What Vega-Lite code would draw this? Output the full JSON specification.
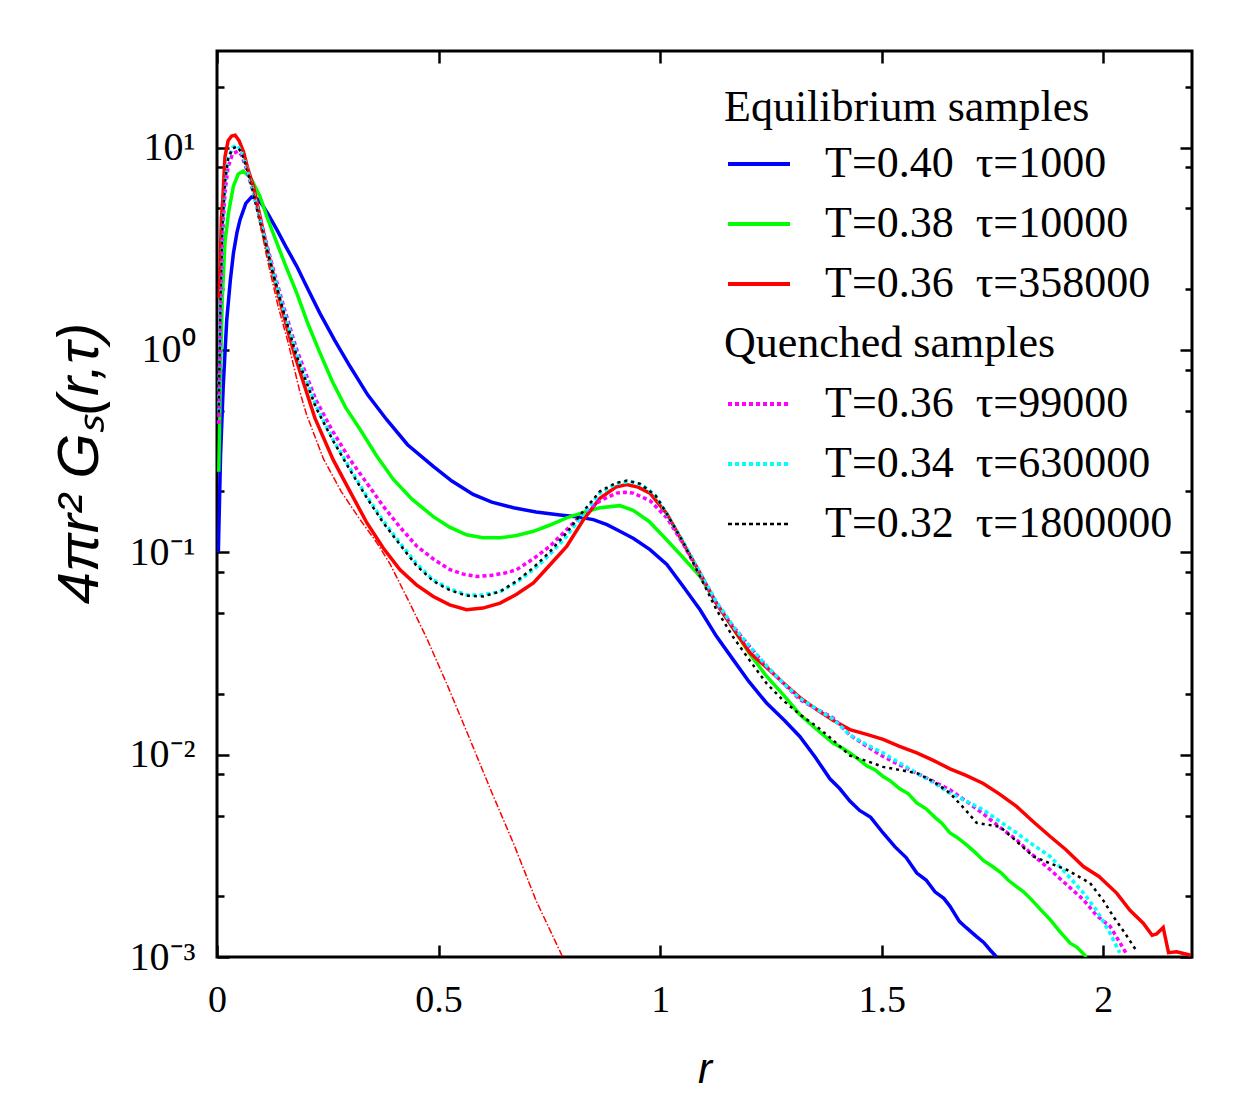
{
  "$schema": "https://vega.github.io/schema/vega-lite/v6.json",
  "width": 975,
  "height": 906,
  "autosize": {"type": "none"},
  "padding": {"left": 217, "top": 51, "right": 66, "bottom": 143},
  "background": "white",
  "config": {
    "view": {"stroke": "black", "strokeWidth": 3},
    "axis": {
      "domain": false,
      "grid": false,
      "labelFont": "Liberation Serif",
      "labelFontSize": 38,
      "labelColor": "black",
      "labelFlush": false,
      "tickColor": "black",
      "tickWidth": 2.5,
      "titleColor": "black",
      "titleFontWeight": "normal"
    },
    "legend": {
      "orient": "none",
      "legendX": 507,
      "legendY": 35,
      "padding": 0,
      "titleFont": "Liberation Serif",
      "titleFontSize": 44,
      "titleFontWeight": "normal",
      "titleColor": "black",
      "titleLimit": 600,
      "titlePadding": 12,
      "labelFont": "Liberation Serif",
      "labelFontSize": 44,
      "labelColor": "black",
      "labelLimit": 600,
      "labelOffset": 44,
      "symbolSize": 3844,
      "symbolStrokeWidth": 4,
      "symbolType": "stroke",
      "rowPadding": 16
    }
  },
  "datasets": {
    "d": [
      {"s":"B","r":0.003,"v":0.1},{"s":"B","r":0.008,"v":0.3},{"s":"B","r":0.014,"v":0.66},{"s":"B","r":0.022,"v":1.41},{"s":"B","r":0.03,"v":2.2},{"s":"B","r":0.037,"v":3.0},{"s":"B","r":0.045,"v":3.8},{"s":"B","r":0.052,"v":4.4},{"s":"B","r":0.065,"v":5.3},{"s":"B","r":0.078,"v":5.7},{"s":"B","r":0.09,"v":5.6},{"s":"B","r":0.1,"v":5.3},{"s":"B","r":0.115,"v":4.7},{"s":"B","r":0.135,"v":3.93},{"s":"B","r":0.155,"v":3.25},{"s":"B","r":0.18,"v":2.59},{"s":"B","r":0.205,"v":2.0},{"s":"B","r":0.232,"v":1.52},{"s":"B","r":0.265,"v":1.12},{"s":"B","r":0.3,"v":0.83},{"s":"B","r":0.34,"v":0.6},{"s":"B","r":0.383,"v":0.452},{"s":"B","r":0.43,"v":0.34},{"s":"B","r":0.488,"v":0.266},{"s":"B","r":0.53,"v":0.225},{"s":"B","r":0.578,"v":0.193},{"s":"B","r":0.62,"v":0.177},{"s":"B","r":0.669,"v":0.166},{"s":"B","r":0.72,"v":0.158},{"s":"B","r":0.774,"v":0.153},{"s":"B","r":0.81,"v":0.15},{"s":"B","r":0.849,"v":0.145},{"s":"B","r":0.88,"v":0.137},{"s":"B","r":0.909,"v":0.127},{"s":"B","r":0.94,"v":0.117},{"s":"B","r":0.977,"v":0.103},{"s":"B","r":1.015,"v":0.087},{"s":"B","r":1.052,"v":0.0678},{"s":"B","r":1.09,"v":0.052},{"s":"B","r":1.127,"v":0.0384},{"s":"B","r":1.165,"v":0.0294},{"s":"B","r":1.2,"v":0.023},{"s":"B","r":1.24,"v":0.018},{"s":"B","r":1.28,"v":0.0148},{"s":"B","r":1.315,"v":0.0123},{"s":"B","r":1.35,"v":0.0097},{"s":"B","r":1.383,"v":0.0076},{"s":"B","r":1.405,"v":0.0068},{"s":"B","r":1.428,"v":0.0059},{"s":"B","r":1.45,"v":0.0053},{"s":"B","r":1.475,"v":0.0049},{"s":"B","r":1.503,"v":0.0041},{"s":"B","r":1.53,"v":0.0035},{"s":"B","r":1.555,"v":0.0031},{"s":"B","r":1.579,"v":0.0026},{"s":"B","r":1.6,"v":0.0024},{"s":"B","r":1.62,"v":0.0021},{"s":"B","r":1.64,"v":0.00195},{"s":"B","r":1.654,"v":0.00178},{"s":"B","r":1.675,"v":0.0015},{"s":"B","r":1.69,"v":0.0014},{"s":"B","r":1.714,"v":0.00126},{"s":"B","r":1.73,"v":0.00118},{"s":"B","r":1.745,"v":0.00108},{"s":"B","r":1.759,"v":0.001},

      {"s":"G","r":0.004,"v":0.25},{"s":"G","r":0.008,"v":0.8},{"s":"G","r":0.012,"v":1.8},{"s":"G","r":0.018,"v":3.4},{"s":"G","r":0.026,"v":4.76},{"s":"G","r":0.037,"v":6.44},{"s":"G","r":0.048,"v":7.4},{"s":"G","r":0.059,"v":7.64},{"s":"G","r":0.07,"v":7.3},{"s":"G","r":0.078,"v":6.95},{"s":"G","r":0.097,"v":5.74},{"s":"G","r":0.115,"v":4.4},{"s":"G","r":0.135,"v":3.38},{"s":"G","r":0.155,"v":2.6},{"s":"G","r":0.18,"v":1.91},{"s":"G","r":0.205,"v":1.35},{"s":"G","r":0.232,"v":0.97},{"s":"G","r":0.26,"v":0.7},{"s":"G","r":0.29,"v":0.52},{"s":"G","r":0.323,"v":0.404},{"s":"G","r":0.36,"v":0.3},{"s":"G","r":0.398,"v":0.229},{"s":"G","r":0.44,"v":0.183},{"s":"G","r":0.488,"v":0.15},{"s":"G","r":0.525,"v":0.133},{"s":"G","r":0.563,"v":0.122},{"s":"G","r":0.6,"v":0.118},{"s":"G","r":0.639,"v":0.118},{"s":"G","r":0.676,"v":0.121},{"s":"G","r":0.714,"v":0.127},{"s":"G","r":0.75,"v":0.136},{"s":"G","r":0.789,"v":0.148},{"s":"G","r":0.825,"v":0.157},{"s":"G","r":0.864,"v":0.166},{"s":"G","r":0.909,"v":0.17},{"s":"G","r":0.939,"v":0.161},{"s":"G","r":0.975,"v":0.142},{"s":"G","r":1.015,"v":0.115},{"s":"G","r":1.052,"v":0.094},{"s":"G","r":1.09,"v":0.076},{"s":"G","r":1.127,"v":0.056},{"s":"G","r":1.165,"v":0.042},{"s":"G","r":1.2,"v":0.032},{"s":"G","r":1.24,"v":0.0244},{"s":"G","r":1.28,"v":0.0195},{"s":"G","r":1.315,"v":0.0158},{"s":"G","r":1.35,"v":0.0135},{"s":"G","r":1.39,"v":0.0114},{"s":"G","r":1.41,"v":0.0108},{"s":"G","r":1.428,"v":0.0102},{"s":"G","r":1.45,"v":0.0094},{"s":"G","r":1.466,"v":0.0088},{"s":"G","r":1.485,"v":0.0084},{"s":"G","r":1.503,"v":0.0078},{"s":"G","r":1.52,"v":0.0074},{"s":"G","r":1.54,"v":0.0068},{"s":"G","r":1.56,"v":0.0064},{"s":"G","r":1.579,"v":0.00577},{"s":"G","r":1.6,"v":0.0054},{"s":"G","r":1.62,"v":0.0049},{"s":"G","r":1.635,"v":0.0046},{"s":"G","r":1.654,"v":0.0041},{"s":"G","r":1.67,"v":0.0039},{"s":"G","r":1.69,"v":0.0036},{"s":"G","r":1.71,"v":0.0033},{"s":"G","r":1.729,"v":0.003},{"s":"G","r":1.75,"v":0.0028},{"s":"G","r":1.77,"v":0.0026},{"s":"G","r":1.785,"v":0.0024},{"s":"G","r":1.804,"v":0.00223},{"s":"G","r":1.82,"v":0.0021},{"s":"G","r":1.84,"v":0.0019},{"s":"G","r":1.86,"v":0.0017},{"s":"G","r":1.88,"v":0.00153},{"s":"G","r":1.9,"v":0.00135},{"s":"G","r":1.925,"v":0.00117},{"s":"G","r":1.94,"v":0.00112},{"s":"G","r":1.962,"v":0.001},

      {"s":"R","r":0.005,"v":1.8},{"s":"R","r":0.01,"v":4.5},{"s":"R","r":0.013,"v":5.5},{"s":"R","r":0.018,"v":9.0},{"s":"R","r":0.025,"v":10.8},{"s":"R","r":0.033,"v":11.4},{"s":"R","r":0.041,"v":11.5},{"s":"R","r":0.05,"v":10.8},{"s":"R","r":0.06,"v":9.5},{"s":"R","r":0.07,"v":7.8},{"s":"R","r":0.082,"v":6.44},{"s":"R","r":0.095,"v":4.8},{"s":"R","r":0.112,"v":3.25},{"s":"R","r":0.135,"v":2.0},{"s":"R","r":0.157,"v":1.31},{"s":"R","r":0.175,"v":0.95},{"s":"R","r":0.195,"v":0.69},{"s":"R","r":0.221,"v":0.46},{"s":"R","r":0.262,"v":0.287},{"s":"R","r":0.3,"v":0.2},{"s":"R","r":0.338,"v":0.14},{"s":"R","r":0.375,"v":0.105},{"s":"R","r":0.413,"v":0.082},{"s":"R","r":0.45,"v":0.069},{"s":"R","r":0.488,"v":0.0605},{"s":"R","r":0.525,"v":0.055},{"s":"R","r":0.563,"v":0.052},{"s":"R","r":0.6,"v":0.053},{"s":"R","r":0.639,"v":0.0561},{"s":"R","r":0.676,"v":0.062},{"s":"R","r":0.714,"v":0.0705},{"s":"R","r":0.75,"v":0.086},{"s":"R","r":0.789,"v":0.107},{"s":"R","r":0.827,"v":0.145},{"s":"R","r":0.864,"v":0.185},{"s":"R","r":0.9,"v":0.21},{"s":"R","r":0.924,"v":0.216},{"s":"R","r":0.95,"v":0.21},{"s":"R","r":0.977,"v":0.196},{"s":"R","r":1.015,"v":0.155},{"s":"R","r":1.052,"v":0.111},{"s":"R","r":1.09,"v":0.079},{"s":"R","r":1.127,"v":0.056},{"s":"R","r":1.165,"v":0.042},{"s":"R","r":1.203,"v":0.0318},{"s":"R","r":1.24,"v":0.027},{"s":"R","r":1.278,"v":0.0226},{"s":"R","r":1.315,"v":0.0192},{"s":"R","r":1.353,"v":0.0167},{"s":"R","r":1.39,"v":0.0148},{"s":"R","r":1.428,"v":0.0133},{"s":"R","r":1.466,"v":0.0126},{"s":"R","r":1.503,"v":0.0119},{"s":"R","r":1.54,"v":0.011},{"s":"R","r":1.579,"v":0.0102},{"s":"R","r":1.615,"v":0.0094},{"s":"R","r":1.654,"v":0.0085},{"s":"R","r":1.69,"v":0.0079},{"s":"R","r":1.729,"v":0.0072},{"s":"R","r":1.765,"v":0.0064},{"s":"R","r":1.804,"v":0.00555},{"s":"R","r":1.84,"v":0.0047},{"s":"R","r":1.88,"v":0.00394},{"s":"R","r":1.915,"v":0.0034},{"s":"R","r":1.955,"v":0.0028},{"s":"R","r":1.99,"v":0.0025},{"s":"R","r":2.03,"v":0.00207},{"s":"R","r":2.06,"v":0.0017},{"s":"R","r":2.09,"v":0.00147},{"s":"R","r":2.11,"v":0.00128},{"s":"R","r":2.12,"v":0.0013},{"s":"R","r":2.135,"v":0.0014},{"s":"R","r":2.147,"v":0.00105},{"s":"R","r":2.165,"v":0.00106},{"s":"R","r":2.181,"v":0.00104},{"s":"R","r":2.197,"v":0.00102},

      {"s":"M","r":0.004,"v":0.43},{"s":"M","r":0.008,"v":1.5},{"s":"M","r":0.012,"v":3.5},{"s":"M","r":0.018,"v":6.0},{"s":"M","r":0.025,"v":8.0},{"s":"M","r":0.035,"v":9.3},{"s":"M","r":0.047,"v":9.6},{"s":"M","r":0.055,"v":9.2},{"s":"M","r":0.065,"v":8.0},{"s":"M","r":0.08,"v":6.2},{"s":"M","r":0.1,"v":4.2},{"s":"M","r":0.125,"v":2.6},{"s":"M","r":0.15,"v":1.65},{"s":"M","r":0.18,"v":1.0},{"s":"M","r":0.223,"v":0.567},{"s":"M","r":0.26,"v":0.4},{"s":"M","r":0.3,"v":0.287},{"s":"M","r":0.338,"v":0.22},{"s":"M","r":0.375,"v":0.169},{"s":"M","r":0.413,"v":0.133},{"s":"M","r":0.451,"v":0.107},{"s":"M","r":0.49,"v":0.092},{"s":"M","r":0.526,"v":0.082},{"s":"M","r":0.556,"v":0.078},{"s":"M","r":0.586,"v":0.076},{"s":"M","r":0.62,"v":0.077},{"s":"M","r":0.65,"v":0.079},{"s":"M","r":0.676,"v":0.082},{"s":"M","r":0.714,"v":0.093},{"s":"M","r":0.751,"v":0.107},{"s":"M","r":0.79,"v":0.13},{"s":"M","r":0.827,"v":0.156},{"s":"M","r":0.865,"v":0.18},{"s":"M","r":0.902,"v":0.196},{"s":"M","r":0.92,"v":0.198},{"s":"M","r":0.939,"v":0.196},{"s":"M","r":0.977,"v":0.18},{"s":"M","r":1.015,"v":0.148},{"s":"M","r":1.052,"v":0.11},{"s":"M","r":1.09,"v":0.077},{"s":"M","r":1.127,"v":0.056},{"s":"M","r":1.165,"v":0.043},{"s":"M","r":1.203,"v":0.034},{"s":"M","r":1.24,"v":0.0273},{"s":"M","r":1.278,"v":0.0225},{"s":"M","r":1.315,"v":0.0187},{"s":"M","r":1.353,"v":0.0168},{"s":"M","r":1.39,"v":0.0152},{"s":"M","r":1.428,"v":0.0125},{"s":"M","r":1.466,"v":0.011},{"s":"M","r":1.503,"v":0.0098},{"s":"M","r":1.54,"v":0.0089},{"s":"M","r":1.579,"v":0.0081},{"s":"M","r":1.615,"v":0.0074},{"s":"M","r":1.654,"v":0.0067},{"s":"M","r":1.69,"v":0.0059},{"s":"M","r":1.729,"v":0.0051},{"s":"M","r":1.765,"v":0.0044},{"s":"M","r":1.804,"v":0.0038},{"s":"M","r":1.84,"v":0.0032},{"s":"M","r":1.88,"v":0.0027},{"s":"M","r":1.915,"v":0.0023},{"s":"M","r":1.955,"v":0.00192},{"s":"M","r":1.985,"v":0.0016},{"s":"M","r":2.015,"v":0.00142},{"s":"M","r":2.035,"v":0.0012},{"s":"M","r":2.053,"v":0.00103},

      {"s":"C","r":0.004,"v":0.49},{"s":"C","r":0.008,"v":1.8},{"s":"C","r":0.012,"v":4.0},{"s":"C","r":0.018,"v":6.8},{"s":"C","r":0.025,"v":8.8},{"s":"C","r":0.035,"v":10.0},{"s":"C","r":0.045,"v":10.3},{"s":"C","r":0.055,"v":9.6},{"s":"C","r":0.065,"v":8.3},{"s":"C","r":0.08,"v":6.3},{"s":"C","r":0.1,"v":4.1},{"s":"C","r":0.125,"v":2.5},{"s":"C","r":0.15,"v":1.58},{"s":"C","r":0.18,"v":0.95},{"s":"C","r":0.223,"v":0.53},{"s":"C","r":0.262,"v":0.36},{"s":"C","r":0.3,"v":0.26},{"s":"C","r":0.338,"v":0.189},{"s":"C","r":0.375,"v":0.143},{"s":"C","r":0.413,"v":0.111},{"s":"C","r":0.45,"v":0.088},{"s":"C","r":0.488,"v":0.073},{"s":"C","r":0.525,"v":0.066},{"s":"C","r":0.563,"v":0.0616},{"s":"C","r":0.6,"v":0.0615},{"s":"C","r":0.639,"v":0.064},{"s":"C","r":0.676,"v":0.071},{"s":"C","r":0.714,"v":0.082},{"s":"C","r":0.75,"v":0.097},{"s":"C","r":0.789,"v":0.12},{"s":"C","r":0.827,"v":0.155},{"s":"C","r":0.864,"v":0.196},{"s":"C","r":0.9,"v":0.218},{"s":"C","r":0.932,"v":0.224},{"s":"C","r":0.96,"v":0.215},{"s":"C","r":0.99,"v":0.19},{"s":"C","r":1.015,"v":0.155},{"s":"C","r":1.052,"v":0.113},{"s":"C","r":1.09,"v":0.079},{"s":"C","r":1.127,"v":0.057},{"s":"C","r":1.165,"v":0.043},{"s":"C","r":1.203,"v":0.034},{"s":"C","r":1.24,"v":0.0275},{"s":"C","r":1.278,"v":0.0225},{"s":"C","r":1.315,"v":0.019},{"s":"C","r":1.353,"v":0.0168},{"s":"C","r":1.39,"v":0.015},{"s":"C","r":1.428,"v":0.0125},{"s":"C","r":1.466,"v":0.0112},{"s":"C","r":1.503,"v":0.0102},{"s":"C","r":1.54,"v":0.0091},{"s":"C","r":1.579,"v":0.0081},{"s":"C","r":1.615,"v":0.0073},{"s":"C","r":1.654,"v":0.00645},{"s":"C","r":1.69,"v":0.0059},{"s":"C","r":1.729,"v":0.00534},{"s":"C","r":1.765,"v":0.0047},{"s":"C","r":1.804,"v":0.0041},{"s":"C","r":1.84,"v":0.0036},{"s":"C","r":1.88,"v":0.00314},{"s":"C","r":1.915,"v":0.0026},{"s":"C","r":1.955,"v":0.00207},{"s":"C","r":1.985,"v":0.0017},{"s":"C","r":2.015,"v":0.00131},{"s":"C","r":2.037,"v":0.00105},

      {"s":"K","r":0.004,"v":0.49},{"s":"K","r":0.008,"v":1.8},{"s":"K","r":0.012,"v":4.0},{"s":"K","r":0.018,"v":6.8},{"s":"K","r":0.025,"v":8.8},{"s":"K","r":0.035,"v":9.9},{"s":"K","r":0.045,"v":10.1},{"s":"K","r":0.055,"v":9.5},{"s":"K","r":0.065,"v":8.2},{"s":"K","r":0.08,"v":6.2},{"s":"K","r":0.1,"v":4.0},{"s":"K","r":0.125,"v":2.45},{"s":"K","r":0.15,"v":1.55},{"s":"K","r":0.18,"v":0.93},{"s":"K","r":0.223,"v":0.52},{"s":"K","r":0.262,"v":0.355},{"s":"K","r":0.3,"v":0.255},{"s":"K","r":0.338,"v":0.186},{"s":"K","r":0.375,"v":0.14},{"s":"K","r":0.413,"v":0.109},{"s":"K","r":0.45,"v":0.086},{"s":"K","r":0.488,"v":0.072},{"s":"K","r":0.525,"v":0.065},{"s":"K","r":0.563,"v":0.061},{"s":"K","r":0.6,"v":0.0605},{"s":"K","r":0.639,"v":0.064},{"s":"K","r":0.676,"v":0.072},{"s":"K","r":0.714,"v":0.084},{"s":"K","r":0.75,"v":0.1},{"s":"K","r":0.789,"v":0.125},{"s":"K","r":0.827,"v":0.16},{"s":"K","r":0.864,"v":0.2},{"s":"K","r":0.9,"v":0.22},{"s":"K","r":0.925,"v":0.226},{"s":"K","r":0.955,"v":0.218},{"s":"K","r":0.99,"v":0.19},{"s":"K","r":1.015,"v":0.155},{"s":"K","r":1.052,"v":0.112},{"s":"K","r":1.09,"v":0.076},{"s":"K","r":1.127,"v":0.052},{"s":"K","r":1.165,"v":0.038},{"s":"K","r":1.203,"v":0.029},{"s":"K","r":1.24,"v":0.0225},{"s":"K","r":1.278,"v":0.0185},{"s":"K","r":1.315,"v":0.0158},{"s":"K","r":1.353,"v":0.0138},{"s":"K","r":1.39,"v":0.0118},{"s":"K","r":1.428,"v":0.0099},{"s":"K","r":1.466,"v":0.0093},{"s":"K","r":1.503,"v":0.0087},{"s":"K","r":1.54,"v":0.0084},{"s":"K","r":1.579,"v":0.0081},{"s":"K","r":1.615,"v":0.0074},{"s":"K","r":1.654,"v":0.00645},{"s":"K","r":1.69,"v":0.0053},{"s":"K","r":1.714,"v":0.0046},{"s":"K","r":1.74,"v":0.0045},{"s":"K","r":1.767,"v":0.0044},{"s":"K","r":1.8,"v":0.0038},{"s":"K","r":1.842,"v":0.00314},{"s":"K","r":1.88,"v":0.0029},{"s":"K","r":1.917,"v":0.0027},{"s":"K","r":1.97,"v":0.00232},{"s":"K","r":2.0,"v":0.0019},{"s":"K","r":2.023,"v":0.00158},{"s":"K","r":2.05,"v":0.0013},{"s":"K","r":2.075,"v":0.00107},

      {"s":"D","r":0.005,"v":1.8},{"s":"D","r":0.01,"v":4.5},{"s":"D","r":0.013,"v":5.5},{"s":"D","r":0.018,"v":9.0},{"s":"D","r":0.025,"v":10.8},{"s":"D","r":0.033,"v":11.4},{"s":"D","r":0.041,"v":11.5},{"s":"D","r":0.05,"v":10.8},{"s":"D","r":0.06,"v":9.4},{"s":"D","r":0.07,"v":7.7},{"s":"D","r":0.082,"v":6.2},{"s":"D","r":0.095,"v":4.5},{"s":"D","r":0.112,"v":2.9},{"s":"D","r":0.138,"v":1.64},{"s":"D","r":0.16,"v":1.1},{"s":"D","r":0.187,"v":0.62},{"s":"D","r":0.202,"v":0.48},{"s":"D","r":0.24,"v":0.29},{"s":"D","r":0.28,"v":0.2},{"s":"D","r":0.32,"v":0.148},{"s":"D","r":0.36,"v":0.112},{"s":"D","r":0.39,"v":0.088},{"s":"D","r":0.435,"v":0.056},{"s":"D","r":0.473,"v":0.0377},{"s":"D","r":0.52,"v":0.022},{"s":"D","r":0.57,"v":0.012},{"s":"D","r":0.62,"v":0.0065},{"s":"D","r":0.67,"v":0.0036},{"s":"D","r":0.72,"v":0.0019},{"s":"D","r":0.78,"v":0.001}
    ]
  },
  "data": {"name": "d"},
  "encoding": {
    "x": {
      "field": "r",
      "type": "quantitative",
      "scale": {"domain": [0, 2.2], "nice": false, "zero": false}
    },
    "y": {
      "field": "v",
      "type": "quantitative",
      "scale": {"type": "log", "domain": [0.001, 30], "nice": false}
    }
  },
  "layer": [
    {
      "encoding": {
        "x": {
          "field": "r",
          "type": "quantitative",
          "scale": {"domain": [0, 2.2], "nice": false, "zero": false},
          "axis": {
            "orient": "bottom",
            "values": [0, 0.5, 1, 1.5, 2],
            "format": "~g",
            "tickSize": -12,
            "labelPadding": 36,
            "title": "r",
            "titleFont": "Liberation Sans",
            "titleFontStyle": "italic",
            "titleFontSize": 42,
            "titlePadding": 30
          }
        },
        "y": {
          "field": "v",
          "type": "quantitative",
          "scale": {"type": "log", "domain": [0.001, 30], "nice": false},
          "axis": {
            "orient": "left",
            "values": [0.001, 0.002, 0.005, 0.008, 0.01, 0.02, 0.05, 0.08, 0.1, 0.2, 0.5, 0.8, 1, 2, 5, 8, 10, 20],
            "labelExpr": "datum.value == 10 ? '10¹' : datum.value == 1 ? '10⁰' : datum.value == 0.1 ? '10⁻¹' : datum.value == 0.01 ? '10⁻²' : datum.value == 0.001 ? '10⁻³' : ''",
            "tickSize": {"condition": {"test": "abs(log(datum.value) / LN10 - round(log(datum.value) / LN10)) < 0.001", "value": -12}, "value": -7},
            "labelPadding": 34,
            "labelFontSize": 40,
            "title": "4πr² Gₛ(r,τ)",
            "titleFont": "Liberation Sans",
            "titleFontStyle": "italic",
            "titleFontSize": 58,
            "titlePadding": 20,
            "titleY": 412
          }
        },
        "color": {
          "field": "s",
          "type": "nominal",
          "scale": {
            "domain": ["B", "G", "R", "H", "M", "C", "K"],
            "range": ["#0000ff", "#00ff00", "#ff0000", "#ffffff", "#ff00ff", "#00ffff", "#000000"]
          },
          "legend": {
            "title": "Equilibrium samples",
            "labelExpr": "datum.label == 'B' ? 'T=0.40\u00a0\u00a0τ=1000' : datum.label == 'G' ? 'T=0.38\u00a0\u00a0τ=10000' : datum.label == 'R' ? 'T=0.36\u00a0\u00a0τ=358000' : datum.label == 'H' ? 'Quenched samples' : datum.label == 'M' ? 'T=0.36\u00a0\u00a0τ=99000' : datum.label == 'C' ? 'T=0.34\u00a0\u00a0τ=630000' : 'T=0.32\u00a0\u00a0τ=1800000'",
            "encode": {
              "title": {
                "update": {"dx": {"value": -13}}
              },
              "symbols": {
                "update": {
                  "strokeDash": {"signal": "indexof(['M', 'C', 'K'], datum.value) >= 0 ? [4, 3] : [1, 0]"},
                  "strokeWidth": {"signal": "datum.value == 'K' ? 2.5 : 4"},
                  "opacity": {"signal": "datum.value == 'H' ? 0 : 1"}
                }
              },
              "labels": {
                "update": {
                  "dx": {"signal": "datum.value == 'H' ? -101 : 0"}
                }
              }
            }
          }
        }
      },
      "layer": [
        {
          "transform": [{"filter": {"field": "s", "oneOf": ["B", "G", "R"]}}],
          "mark": {"type": "line", "strokeWidth": 3.5, "clip": true}
        },
        {
          "transform": [{"filter": {"field": "s", "oneOf": ["M", "C"]}}],
          "mark": {"type": "line", "strokeWidth": 3.5, "strokeDash": [4, 3], "clip": true}
        },
        {
          "transform": [{"filter": {"field": "s", "equal": "K"}}],
          "mark": {"type": "line", "strokeWidth": 2.5, "strokeDash": [3, 4], "clip": true}
        }
      ]
    },
    {
      "transform": [{"filter": {"field": "s", "equal": "D"}}],
      "mark": {"type": "line", "strokeWidth": 1.5, "color": "#ff0000", "strokeDash": [7, 2, 1.5, 2], "clip": true},
      "encoding": {
        "x": {
          "field": "r",
          "type": "quantitative",
          "scale": {"domain": [0, 2.2], "nice": false, "zero": false},
          "axis": {"orient": "top", "values": [0, 0.5, 1, 1.5, 2], "labels": false, "tickSize": -12, "title": null}
        },
        "y": {
          "field": "v",
          "type": "quantitative",
          "scale": {"type": "log", "domain": [0.001, 30], "nice": false},
          "axis": {
            "orient": "right",
            "values": [0.001, 0.002, 0.005, 0.008, 0.01, 0.02, 0.05, 0.08, 0.1, 0.2, 0.5, 0.8, 1, 2, 5, 8, 10, 20],
            "labels": false,
            "tickSize": {"condition": {"test": "abs(log(datum.value) / LN10 - round(log(datum.value) / LN10)) < 0.001", "value": -12}, "value": -7},
            "title": null
          }
        }
      }
    }
  ],
  "resolve": {"scale": {"x": "independent", "y": "independent"}}
}
